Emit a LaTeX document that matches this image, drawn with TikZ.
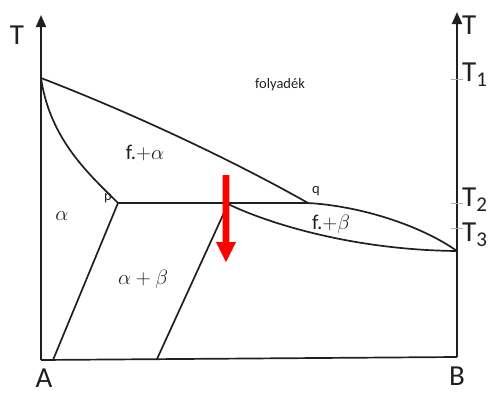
\documentclass[tikz,border=0pt]{standalone}
\usepackage{fontspec}
\setmainfont{Carlito}
\usetikzlibrary{arrows.meta}
\definecolor{ink}{HTML}{231F20}
\definecolor{tickgray}{HTML}{B0B0B0}
\newcommand{\tsub}[1]{T\raisebox{-5pt}{\fontsize{21}{21}\selectfont #1}}

\begin{document}
\begin{tikzpicture}[x=1pt, y=-1pt, line join=round,
    curve/.style={ink, line width=1.7pt},
    axis/.style={ink, line width=2pt, -{Triangle[length=12pt, width=10pt]}},
    big/.style={ink, font=\fontsize{29}{29}\selectfont, inner sep=0pt},
    small/.style={ink, font=\fontsize{14.5}{14.5}\selectfont, inner sep=0pt},
    region/.style={ink, font=\fontsize{21}{21}\selectfont, inner sep=0pt}]
  \useasboundingbox (0,0) rectangle (491,394);
  % key points of the diagram
  \coordinate (A0) at (41,360);
  \coordinate (B0) at (457,357);
  \coordinate (TA) at (41,78);
  \coordinate (TB) at (457,251);
  \coordinate (p) at (118,203);
  \coordinate (q) at (308,203);
  \coordinate (s) at (228,204);
  \coordinate (pa) at (53,360);
  \coordinate (sb) at (157,359);
  % axes
  \draw[axis] (A0) -- (41,15);
  \draw[axis] (B0) -- (457,12);
  \draw[curve] (A0) -- (B0);
  % temperature ticks
  \foreach \ty in {79,203,228}
    \draw[tickgray, line width=0.8pt] (451,\ty) -- (463,\ty);
  % phase boundaries
  \draw[curve] (TA) .. controls (150,120) and (250,170) .. (q);
  \draw[curve] (TA) .. controls (50,140) and (90,175) .. (p);
  \draw[curve] (p) -- (q);
  \draw[curve] (q) .. controls (360,206) and (420,225) .. (TB);
  \draw[curve] (s) .. controls (265,222) and (350,250) .. (TB);
  \draw[curve] (p) -- (pa);
  \draw[curve] (s) -- (sb);
  % cooling arrow
  \fill[red] (222.7,175) -- (229.3,175) -- (229.3,242) -- (236,242)
    -- (226,262) -- (216,242) -- (222.7,242) -- cycle;
  % labels
  \node[big] (lT) at (17,35) {T};
  \node[big, anchor=west] (rT) at (462,25) {T};
  \node[big, anchor=west] (T1) at (462,75) {\tsub{1}};
  \node[big, anchor=west] (T2) at (462,200) {\tsub{2}};
  \node[big, anchor=west] (T3) at (462,235) {\tsub{3}};
  \node[big] (lA) at (44,378) {A};
  \node[big] (lB) at (457,376) {B};
  \node[small] (liq) at (280,85) {folyadék};
  \node[small] (lp) at (108,198) {p};
  \node[small] (lq) at (316,191) {q};
  \node[region] (fa) at (145,153) {f.$+\alpha$};
  \node[region] (al) at (62,216) {$\alpha$};
  \node[region] (fb) at (331,224) {f.$+\beta$};
  \node[region] (ab) at (143,279) {$\alpha+\beta$};
\end{tikzpicture}
\end{document}
